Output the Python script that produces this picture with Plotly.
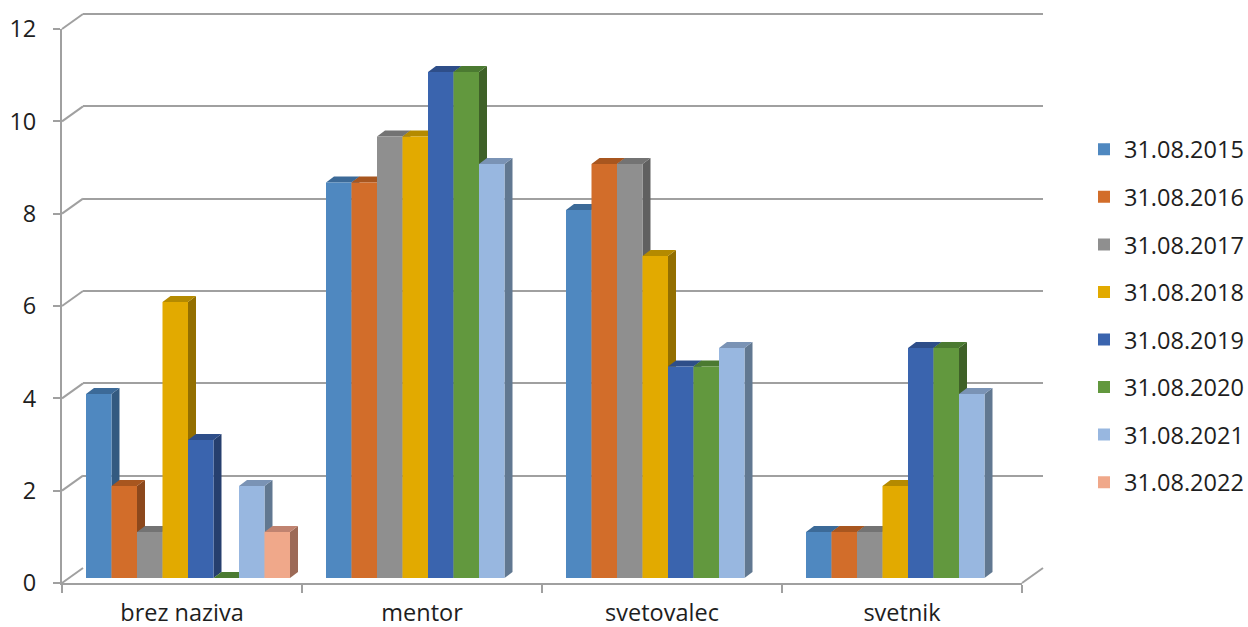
import plotly.graph_objects as go

# ---------------- data ----------------
categories = ["brez naziva", "mentor", "svetovalec", "svetnik"]
series_names = ["31.08.2015", "31.08.2016", "31.08.2017", "31.08.2018",
                "31.08.2019", "31.08.2020", "31.08.2021", "31.08.2022"]
v2015 = [4, 8.6, 8, 1]
v2016 = [2, 8.6, 9, 1]
v2017 = [1, 9.6, 9, 1]
v2018 = [6, 9.6, 7, 2]
v2019 = [3, 11, 4.6, 5]
v2020 = [0, 11, 4.6, 5]
v2021 = [2, 9, 5, 4]
v2022 = [1, None, None, None]
series_values = [v2015, v2016, v2017, v2018, v2019, v2020, v2021, v2022]
y_ticks = [0, 2, 4, 6, 8, 10, 12]

# ---------------- styles ----------------
front_colors = ["#4F88C0", "#D26D2A", "#8F8F8F", "#E2AA00",
                "#3A64AE", "#62983E", "#98B7E0", "#F0A88A"]
side_colors = ["#335A80", "#8C481C", "#606060", "#936F00",
               "#263F6E", "#3F6128", "#617891", "#9C6A57"]
top_colors = ["#3C6A98", "#A8561F", "#737373", "#B48A00",
              "#2E4E89", "#4B7A31", "#7A93B5", "#C08370"]
GRID = "#A0A0A0"
FONT = "Open Sans"
FS = 23.5
TXT = "#1E1E1E"

W, H = 1248, 627
def fx(p):
    return p / W
def fy(p):
    return 1 - p / H

# pixel geometry of the pseudo-3D frame
FX0, FX1 = 62, 1022          # front x extent
FY0, FY12 = 583, 29          # front y of value 0 and 12
WDX, WDY = 21, 15            # back wall offset
BDX, BDY = 6, 5              # bar front plane offset
BY0, BPU = 578, 46.0         # bar plane: y of 0, px per unit
DEPTH_X, DEPTH_Y = 8, 6      # bar depth in px

ymax = y_ticks[-1]
front_ppu = (FY0 - FY12) / ymax
wall_pad = 0.3               # extra range so that the top gridline is drawn
cat_px = (FX1 - FX0) / len(categories)
n = len(series_names)
group_w = 0.85
bw = group_w / n
ddx = DEPTH_X / cat_px
ddy = DEPTH_Y / BPU

def front_paper_y(t):
    return fy(FY0 - t * front_ppu)

fig = go.Figure()

# dummy traces so that the wall and front subplots exist
fig.add_trace(go.Scatter(x=[None], y=[None], xaxis="x", yaxis="y",
                         showlegend=False, hoverinfo="skip"))
fig.add_trace(go.Scatter(x=[None], y=[None], xaxis="x2", yaxis="y2",
                         showlegend=False, hoverinfo="skip"))

# side and top faces
for k, (name, vals) in enumerate(zip(series_names, series_values)):
    off = -group_w / 2 + k * bw
    sx, sy, tx, ty = [], [], [], []
    for i, v in enumerate(vals):
        if v is None:
            continue
        xl = i + off
        xr = xl + bw
        sx += [xr, xr + ddx, xr + ddx, xr, xr, None]
        sy += [0, ddy, v + ddy, v, 0, None]
        tx += [xl, xl + ddx, xr + ddx, xr, xl, None]
        ty += [v, v + ddy, v + ddy, v, v, None]
    fig.add_trace(go.Scatter(x=sx, y=sy, xaxis="x3", yaxis="y3", mode="lines",
                             fill="toself", fillcolor=side_colors[k],
                             line=dict(width=0, color=side_colors[k]),
                             showlegend=False, hoverinfo="skip"))
    fig.add_trace(go.Scatter(x=tx, y=ty, xaxis="x3", yaxis="y3", mode="lines",
                             fill="toself", fillcolor=top_colors[k],
                             line=dict(width=0, color=top_colors[k]),
                             showlegend=False, hoverinfo="skip"))

# front faces
for k, (name, vals) in enumerate(zip(series_names, series_values)):
    off = -group_w / 2 + k * bw
    fig.add_trace(go.Bar(x=list(range(len(categories))), y=vals, name=name,
                         width=bw, offset=off, xaxis="x4", yaxis="y4",
                         marker=dict(color=front_colors[k], line=dict(width=0)),
                         legendgroup=name))

# diagonal connectors of the gridlines to the front axis
shapes = []
for t in y_ticks:
    shapes.append(dict(type="line", xref="paper", yref="paper",
                       xsizemode="pixel", xanchor=fx(FX0), x0=0, x1=WDX,
                       ysizemode="pixel", yanchor=front_paper_y(t), y0=0, y1=WDY,
                       line=dict(color=GRID, width=2)))
shapes.append(dict(type="line", xref="paper", yref="paper",
                   xsizemode="pixel", xanchor=fx(FX1), x0=0, x1=WDX,
                   ysizemode="pixel", yanchor=front_paper_y(y_ticks[0]),
                   y0=0, y1=WDY, line=dict(color=GRID, width=2)))

hidden = dict(showgrid=False, zeroline=False, showline=False,
              showticklabels=False, ticks="", automargin=False)

fig.update_layout(
    template="none",
    width=W, height=H,
    margin=dict(l=0, r=0, t=0, b=0, autoexpand=False),
    paper_bgcolor="white", plot_bgcolor="rgba(0,0,0,0)",
    font=dict(family=FONT, size=FS, color=TXT),
    barmode="overlay",
    shapes=shapes,
    xaxis=dict(domain=[fx(FX0 + WDX), fx(FX1 + WDX)], range=[-0.5, 3.5],
               anchor="y", **hidden),
    yaxis=dict(domain=[fy(FY0 - WDY),
                       fy(FY0 - WDY - (ymax + wall_pad) * front_ppu)],
               range=[0, ymax + wall_pad],
               anchor="x", tickvals=y_ticks, showgrid=True, gridcolor=GRID,
               gridwidth=2, zeroline=False, showline=False,
               showticklabels=False, ticks="", automargin=False),
    xaxis2=dict(domain=[fx(FX0), fx(FX1)], range=[-0.5, 3.5], anchor="y2",
                tickvals=list(range(len(categories))), ticktext=categories,
                ticks="", showgrid=False, zeroline=False, automargin=False,
                showline=True, linecolor=GRID, linewidth=2,
                ticklabelstandoff=8,
                tickfont=dict(family=FONT, size=FS, color=TXT),
                minor=dict(tickvals=[i - 0.5 for i in range(len(categories) + 1)],
                           ticks="outside", ticklen=8, tickwidth=2,
                           tickcolor=GRID, showgrid=False)),
    yaxis2=dict(domain=[fy(FY0), fy(FY12)], range=[0, ymax], anchor="x2",
                tickvals=y_ticks, ticks="outside", ticklen=7, tickwidth=2,
                tickcolor=GRID, showgrid=False, zeroline=False, automargin=False,
                showline=True, linecolor=GRID, linewidth=2,
                ticklabelstandoff=12,
                tickfont=dict(family=FONT, size=FS, color=TXT)),
    xaxis3=dict(domain=[fx(FX0 + BDX), fx(FX1 + BDX)], range=[-0.5, 3.5],
                anchor="y3", **hidden),
    yaxis3=dict(domain=[fy(BY0), fy(BY0 - ymax * BPU)], range=[0, ymax],
                anchor="x3", **hidden),
    xaxis4=dict(overlaying="x3", range=[-0.5, 3.5], anchor="y4", **hidden),
    yaxis4=dict(overlaying="y3", range=[0, ymax], anchor="x4", **hidden),
    legend=dict(x=fx(1084), xanchor="left", y=fy(316), yanchor="middle",
                traceorder="grouped", tracegroupgap=14,
                font=dict(family=FONT, size=FS, color=TXT),
                bgcolor="rgba(0,0,0,0)", borderwidth=0),
)

fig.write_html("out.html", config={"displayModeBar": False},
               post_script="document.body.style.margin='0';document.body.style.overflow='hidden';")
